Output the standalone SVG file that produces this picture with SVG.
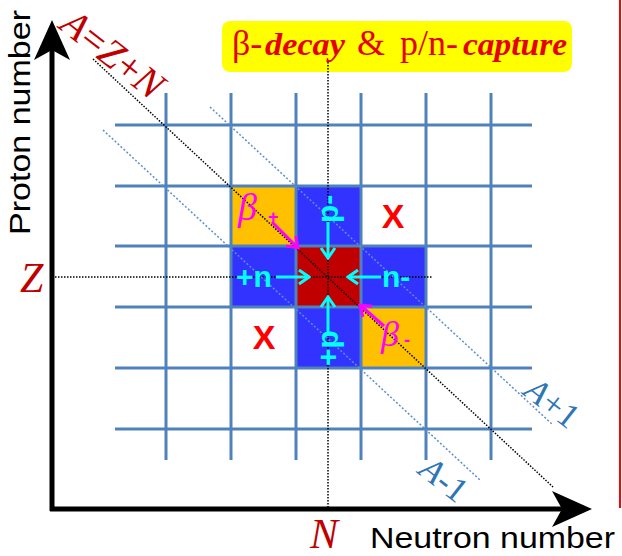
<svg xmlns="http://www.w3.org/2000/svg" width="622" height="556" viewBox="0 0 622 556">
<style>
.grid{stroke:#4f81bd;stroke-width:3;fill:none}
.dotk{stroke:#000;stroke-width:1.5;stroke-dasharray:1.5 1.5;fill:none}
.dotb{stroke:#5b8fd0;stroke-width:1.5;stroke-dasharray:2 2;fill:none}
.axis{stroke:#000;stroke-width:5;fill:none}
.cy{stroke:#00ffff;stroke-width:3;fill:none}
.mg{stroke:#ff00ff;stroke-width:3;fill:none}
.lbl{font-family:"Liberation Sans",Arial,sans-serif;font-size:29px;fill:#000}
.math{font-family:"Liberation Serif","Times New Roman",serif}
.cyt{font-family:"Liberation Sans",Arial,sans-serif;font-weight:bold;font-size:30px;fill:#00ffff}
.xt{font-family:"Liberation Sans",Arial,sans-serif;font-weight:bold;font-size:34px;fill:#ff0000;text-anchor:middle}
.bt{font-family:"Liberation Serif","Times New Roman",serif;font-style:italic;fill:#ff00ff}
.bs{font-family:"Liberation Sans",Arial,sans-serif;font-weight:bold;font-size:18px;fill:#ff00ff}
.orange{fill:#ffc000}
.blue{fill:#3333ff}
.red{fill:#c00000}
</style>
<defs>
<marker id="axhead" viewBox="0 0 40 36" refX="10" refY="18" markerWidth="40" markerHeight="36" markerUnits="userSpaceOnUse" orient="auto">
<path d="M0,0 L40,18 L0,36 L10,18 Z" fill="#000"/>
</marker>
<marker id="cyhead" viewBox="-12 -9 14 18" refX="0" refY="0" markerWidth="14" markerHeight="18" markerUnits="userSpaceOnUse" orient="auto">
<path d="M-10,-7 L0,0 L-10,7" fill="none" stroke="#00ffff" stroke-width="3"/>
</marker>
<marker id="mghead" viewBox="-12 -9 14 18" refX="0" refY="0" markerWidth="14" markerHeight="18" markerUnits="userSpaceOnUse" orient="auto">
<path d="M-10,-7 L0,0 L-10,7" fill="none" stroke="#ff00ff" stroke-width="3"/>
</marker>
</defs>
<rect width="622" height="556" fill="#fff"/>
<line x1="620" y1="0" x2="620" y2="508" stroke="#ff0000" stroke-width="2"/>

<g id="title">
<rect x="222" y="21" width="350" height="51" rx="8" fill="#ffff00"/>
<text y="55" class="math" font-size="36" fill="#e60000"><tspan x="232">β-</tspan><tspan x="265" font-style="italic" font-weight="bold" font-size="31" textLength="80" lengthAdjust="spacingAndGlyphs">decay</tspan><tspan x="357">&amp;</tspan><tspan x="400">p/n-</tspan><tspan x="463" font-style="italic" font-weight="bold" font-size="31" textLength="104" lengthAdjust="spacingAndGlyphs">capture</tspan></text>
</g>

<g id="cells">
<rect id="cell-betaplus" class="orange" x="231" y="186" width="65" height="60"/>
<rect id="cell-top" class="blue" x="296" y="186" width="65" height="60"/>
<rect id="cell-left" class="blue" x="231" y="246" width="65" height="61"/>
<rect id="cell-center" class="red" x="296" y="246" width="65" height="61"/>
<rect id="cell-right" class="blue" x="361" y="246" width="65" height="61"/>
<rect id="cell-bottom" class="blue" x="296" y="307" width="65" height="61"/>
<rect id="cell-betaminus" class="orange" x="361" y="307" width="65" height="61"/>
</g>

<g id="grid" class="grid">
<line x1="166" y1="93" x2="166" y2="460"/>
<line x1="231" y1="93" x2="231" y2="460"/>
<line x1="296" y1="93" x2="296" y2="460"/>
<line x1="361" y1="93" x2="361" y2="460"/>
<line x1="426" y1="93" x2="426" y2="460"/>
<line x1="491" y1="93" x2="491" y2="460"/>
<line x1="115" y1="125" x2="532" y2="125"/>
<line x1="115" y1="186" x2="532" y2="186"/>
<line x1="115" y1="246" x2="532" y2="246"/>
<line x1="115" y1="307" x2="532" y2="307"/>
<line x1="115" y1="368" x2="532" y2="368"/>
<line x1="115" y1="429" x2="532" y2="429"/>
</g>

<g id="guides">
<line class="dotk" x1="52" y1="277" x2="432" y2="277"/>
<line class="dotk" x1="328" y1="62" x2="328" y2="509"/>
<line class="dotk" x1="93" y1="59" x2="553" y2="487"/>
<line class="dotb" x1="210" y1="107" x2="553" y2="425"/>
<line class="dotb" x1="103" y1="130" x2="480" y2="480"/>
</g>

<g id="axes">
<line class="axis" x1="52" y1="511" x2="52" y2="50" marker-end="url(#axhead)"/>
<line class="axis" x1="50" y1="509" x2="562" y2="509" marker-end="url(#axhead)"/>
<text class="lbl" x="370" y="548" textLength="245" lengthAdjust="spacingAndGlyphs">Neutron number</text>
<text class="lbl" transform="translate(30,235) rotate(-90)" textLength="225" lengthAdjust="spacingAndGlyphs">Proton number</text>
<text class="math" x="20" y="292" font-size="42" font-style="italic" fill="#c00000">Z</text>
<text class="math" x="310" y="548" font-size="42" font-style="italic" fill="#c00000">N</text>
</g>

<g id="isobar-labels">
<text class="math" transform="translate(58,28) rotate(38)" font-size="40" fill="#c00000"><tspan font-style="italic">A</tspan>=<tspan font-style="italic">Z</tspan>+<tspan font-style="italic">N</tspan></text>
<text class="math" transform="translate(522,394) rotate(38)" font-size="35" fill="#2e75b6"><tspan font-style="italic">A</tspan>+1</text>
<text class="math" transform="translate(417,473) rotate(38)" font-size="35" fill="#2e75b6"><tspan font-style="italic">A</tspan>-1</text>
</g>

<g id="connectors">
<line class="cy" x1="328" y1="222" x2="328" y2="258" marker-end="url(#cyhead)"/>
<line class="cy" x1="328" y1="333" x2="328" y2="297" marker-end="url(#cyhead)"/>
<line class="cy" x1="276" y1="277" x2="309" y2="277" marker-end="url(#cyhead)"/>
<line class="cy" x1="381" y1="277" x2="348" y2="277" marker-end="url(#cyhead)"/>
<line class="mg" x1="272" y1="222" x2="298" y2="248" marker-end="url(#mghead)"/>
<line class="mg" x1="384" y1="326" x2="360" y2="305" marker-end="url(#mghead)"/>
</g>

<g id="labels">
<text class="cyt" transform="translate(338,223) rotate(-90)">p-</text>
<text class="cyt" transform="translate(338,366) rotate(-90)">+p</text>
<text class="cyt" x="236" y="287">+n</text>
<text class="cyt" x="382" y="287">n-</text>
<text class="xt" x="393" y="228">X</text>
<text class="xt" x="264" y="349">X</text>
<text id="beta-plus" class="bt" x="238" y="220" font-size="38">β</text>
<text class="bs" x="268" y="223">+</text>
<text id="beta-minus" class="bt" x="381" y="346" font-size="36">β</text>
<text class="bs" x="404" y="346">-</text>
</g>
</svg>
